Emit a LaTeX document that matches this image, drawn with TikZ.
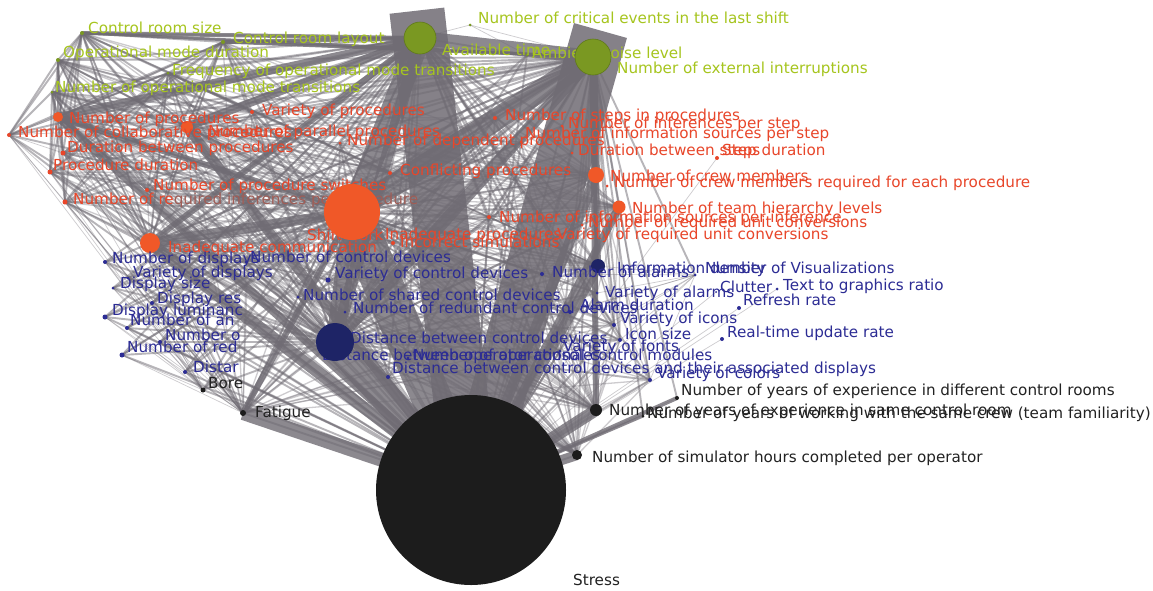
\documentclass[tikz,border=0pt]{standalone}
\usepackage{fontspec}
\setmainfont{DejaVu Sans}
\usetikzlibrary{backgrounds}
\definecolor{gtxt}{RGB}{166,197,30}
\definecolor{gnode}{RGB}{122,152,34}
\definecolor{gdark}{RGB}{96,122,26}
\definecolor{rtxt}{RGB}{232,70,42}
\definecolor{rnode}{RGB}{240,88,40}
\definecolor{btxt}{RGB}{44,44,148}
\definecolor{bnode}{RGB}{30,36,102}
\definecolor{ktxt}{RGB}{34,34,34}
\definecolor{knode}{RGB}{28,28,28}
\definecolor{edgec}{RGB}{112,108,116}
\tikzset{
  nd/.style={circle, inner sep=0pt, minimum size=#1, draw=none},
  lbl/.style={anchor=west, inner sep=0pt, text height=10pt, text depth=0pt,
              font=\fontsize{15.2}{17}\selectfont},
  gl/.style={lbl, text=gtxt},
  rl/.style={lbl, text=rtxt},
  bl/.style={lbl, text=btxt},
  kl/.style={lbl, text=ktxt},
  gd/.style={nd=#1, fill=gnode},
  rd/.style={nd=#1, fill=rtxt},
  bd/.style={nd=#1, fill=btxt},
  kd/.style={nd=#1, fill=knode},
  lnk/.style={draw=edgec, line width=1.9pt, opacity=0.5},
  lnkm/.style={draw=edgec, line width=1.3pt, opacity=0.35},
  lnkf/.style={draw=edgec, line width=0.7pt, opacity=0.35},
  lnkw/.style={draw=edgec, line width=#1, opacity=0.8},
  lnkq/.style={draw=edgec, line width=#1, opacity=0.85, line cap=rect},
}
\begin{document}
\begin{tikzpicture}[x=1pt,y=-1pt]
\useasboundingbox (0,0) rectangle (1153,590);

% ---------- small vertices ----------
% environment factors
\node[gd=4pt] (G-crs) at (82,33) {};
\node[gd=4pt] (G-crl) at (223,42) {};
\node[gd=4pt] (G-omd) at (58,60) {};
\node[gd=3pt] (G-fomt) at (168,73) {};
\node[gd=3pt] (G-nomt) at (52,92) {};
\node[gd=3pt] (G-anl) at (527,55) {};
\node[gd=3pt] (G-nce) at (470,25) {};
% task factors
\node[nd=10pt, fill=rnode] (R-np) at (58,117) {};
\node[rd=4pt] (R-ncp) at (9,135) {};
\node[nd=12pt, fill=rnode] (R-npp) at (187,127) {};
\node[rd=4pt] (R-vp) at (252,112) {};
\node[rd=5pt] (R-dbp) at (63,153) {};
\node[rd=5pt] (R-pd) at (50,172) {};
\node[rd=4pt] (R-nps) at (147,190) {};
\node[rd=5pt] (R-nri) at (65,202) {};
\node[rd=3pt] (R-ndp) at (340,143) {};
\node[rd=4pt] (R-nsp) at (495,118) {};
\node[rd=3pt] (R-nip) at (562,126) {};
\node[rd=3pt] (R-nis) at (521,142) {};
\node[rd=3pt] (R-dbs) at (572,153) {};
\node[rd=4pt] (R-sd) at (717,158) {};
\node[rd=4pt] (R-cp) at (390,173) {};
\node[nd=16pt, fill=rnode] (R-ncm) at (596,175) {};
\node[rd=3pt] (R-ncmr) at (607,186) {};
\node[nd=13pt, fill=rnode] (R-ntl) at (619,207) {};
\node[rd=4pt] (R-nisi) at (489,217) {};
\node[rd=3pt] (R-nru) at (582,225) {};
\node[rd=4pt] (R-is) at (393,243) {};
\node[nd=20pt, fill=rnode] (R-ic) at (150,243) {};
% interface factors
\node[bd=4pt] (B-nd) at (105,262) {};
\node[bd=3pt] (B-ncd) at (246,262) {};
\node[bd=3pt] (B-vd) at (128,278) {};
\node[bd=3pt] (B-ds) at (113,288) {};
\node[bd=4pt] (B-dr) at (152,303) {};
\node[bd=5pt] (B-dl) at (105,317) {};
\node[bd=4pt] (B-na) at (127,328) {};
\node[bd=4pt] (B-no) at (160,342) {};
\node[bd=5pt] (B-nr) at (122,355) {};
\node[bd=4pt] (B-di) at (185,372) {};
\node[bd=5pt] (B-vcd) at (328,280) {};
\node[bd=3pt] (B-nscd) at (298,297) {};
\node[bd=3pt] (B-nrcd) at (345,312) {};
\node[bd=4pt] (B-dcda) at (388,377) {};
\node[bd=4pt] (B-na2) at (542,274) {};
\node[nd=14pt, fill=bnode] (B-id) at (598,266) {};
\node[bd=3pt] (B-nv) at (695,275) {};
\node[bd=3pt] (B-va) at (597,293) {};
\node[bd=2pt] (B-cl) at (716,292) {};
\node[bd=3pt] (B-tgr) at (777,289) {};
\node[bd=4pt] (B-rr) at (739,308) {};
\node[bd=4pt] (B-ad) at (570,312) {};
\node[bd=4pt] (B-vi) at (614,325) {};
\node[bd=4pt] (B-is) at (620,340) {};
\node[bd=4pt] (B-rt) at (722,339) {};
\node[bd=3pt] (B-vf) at (560,351) {};
\node[bd=3pt] (B-nocm) at (408,358) {};
\node[bd=4pt] (B-vc) at (650,380) {};
% operator factors
\node[kd=5pt] (K-b) at (203,390) {};
\node[kd=6pt] (K-f) at (243,413) {};
\node[kd=4pt] (K-ydc) at (677,398) {};
\node[kd=12pt] (K-ysc) at (596,410) {};
\node[kd=3pt] (K-ysw) at (643,416) {};
\node[kd=10pt] (K-sim) at (577,455) {};

% ---------- labels ----------
\node[gl] (G-crs-t) at (88,28) {Control room size};
\node[gl] (G-crl-t) at (233,38) {Control room layout};
\node[gl] (G-omd-t) at (63,52) {Operational mode duration};
\node[gl] (G-fomt-t) at (172,70) {Frequency of operational mode transitions};
\node[gl] (G-nomt-t) at (55,87) {Number of operational mode transitions};
\node[gl] (G1-t) at (442,50) {Available time};
\node[gl] (G-anl-t) at (532,53) {Ambient noise level};
\node[gl] (G2-t) at (617,68) {Number of external interruptions};
\node[gl] (G-nce-t) at (478,18) {Number of critical events in the last shift};

\node[rl] (R-np-t) at (69,118) {Number of procedures};
\node[rl] (R-ncp-t) at (18,132) {Number of collaborative procedures};
\node[rl] (R-npp-t) at (208,131) {Number of parallel procedures};
\node[rl] (R-vp-t) at (262,110) {Variety of procedures};
\node[rl] (R-dbp-t) at (67,147) {Duration between procedures};
\node[rl] (R-pd-t) at (53,165) {Procedure duration};
\node[rl] (R-nps-t) at (153,185) {Number of procedure switches};
\node[rl] (R-nri-t) at (73,199) {Number of re{\color{rtxt!40!edgec}quired inferences per procedure}};
\node[rl] (R-ndp-t) at (347,140) {Number of dependent procedures};
\node[rl] (R-nsp-t) at (505,115) {Number of steps in procedures};
\node[rl] (R-nip-t) at (568,123) {Number of inferences per step};
\node[rl] (R-nis-t) at (525,133) {Number of information sources per step};
\node[rl] (R-dbs-t) at (578,150) {Duration between steps};
\node[rl] (R-sd-t) at (722,150) {Step duration};
\node[rl] (R-cp-t) at (400,170) {Conflicting procedures};
\node[rl] (R-ncm-t) at (610,176) {Number of crew members};
\node[rl] (R-ncmr-t) at (614,182) {Number of crew members required for each procedure};
\node[rl] (R-ntl-t) at (632,208) {Number of team hierarchy levels};
\node[rl] (R-nisi-t) at (499,217) {Number of information sources per inference};
\node[rl] (R-nru-t) at (588,222) {Number of required unit conversions};
\node[rl] (R-sw-t) at (307,235) {Shift work};
\node[rl] (R-ip-t) at (385,234) {Inadequate procedures};
\node[rl] (R-vru-t) at (557,234) {Variety of required unit conversions};
\node[rl] (R-is-t) at (400,242) {Incorrect simulations};
\node[rl] (R-ic-t) at (168,247) {Inadequate communication};

\node[bl] (B-nd-t) at (112,258) {Number of displays};
\node[bl] (B-ncd-t) at (250,257) {Number of control devices};
\node[bl] (B-vd-t) at (133,272) {Variety of displays};
\node[bl] (B-ds-t) at (120,283) {Display size};
\node[bl] (B-dr-t) at (157,298) {Display res};
\node[bl] (B-dl-t) at (112,310) {Display luminanc};
\node[bl] (B-na-t) at (130,320) {Number of an};
\node[bl] (B-no-t) at (165,335) {Number o};
\node[bl] (B-nr-t) at (127,347) {Number of red};
\node[bl] (B-di-t) at (193,367) {Distar};
\node[bl] (B-vcd-t) at (335,273) {Variety of control devices};
\node[bl] (B-nscd-t) at (303,295) {Number of shared control devices};
\node[bl] (B-nrcd-t) at (353,308) {Number of redundant control devices};
\node[bl] (B-dbcd-t) at (350,338) {Distance between control devices};
\node[bl] (B-doc-t) at (322,355) {Distance between operator consoles};
\node[bl] (B-nocm-t) at (413,355) {Number of operational control modules};
\node[bl] (B-dcda-t) at (392,368) {Distance between control devices and their associated displays};
\node[bl] (B-na2-t) at (552,272) {Number of alarms};
\node[bl] (B-id-t) at (617,268) {Information density};
\node[bl] (B-nv-t) at (705,268) {Number of Visualizations};
\node[bl] (B-va-t) at (605,292) {Variety of alarms};
\node[bl] (B-cl-t) at (720,287) {Clutter};
\node[bl] (B-tgr-t) at (783,285) {Text to graphics ratio};
\node[bl] (B-rr-t) at (743,300) {Refresh rate};
\node[bl] (B-ad-t) at (580,305) {Alarm duration};
\node[bl] (B-vi-t) at (620,318) {Variety of icons};
\node[bl] (B-is-t) at (625,334) {Icon size};
\node[bl] (B-rt-t) at (727,332) {Real-time update rate};
\node[bl] (B-vf-t) at (563,346) {Variety of fonts};
\node[bl] (B-vc-t) at (657,373) {Variety of colors};

\node[kl] (K-b-t) at (208,383) {Bore};
\node[kl] (K-f-t) at (255,412) {Fatigue};
\node[kl] (K-ydc-t) at (681,390) {Number of years of experience in different control rooms};
\node[kl] (K-ysc-t) at (609,410) {Number of years of experience in same control room};
\node[kl] (K-ysw-t) at (647,413) {Number of years of working with the same crew (team familiarity)};
\node[kl] (K-sim-t) at (592,457) {Number of simulator hours completed per operator};
\node[kl] (K-s-t) at (573,580) {Stress};

% ---------- large vertices ----------
\node[nd=32pt, fill=gnode, draw=gdark, line width=0.6pt] (G1) at (420,38) {};
\node[nd=36pt, fill=gnode, draw=gdark, line width=0.6pt] (G2) at (593,57) {};
\node[nd=56pt, fill=rnode] (R-big) at (352,212) {};
\node[nd=38pt, fill=bnode] (B-dbcd) at (335,342) {};
\node[nd=190pt, fill=knode] (K-s) at (471,490) {};

% ---------- connectors ----------
\begin{scope}[on background layer]
\fill[white] (0,0) rectangle (1153,590);
% heavy links between the main factors
\draw[lnkq=55pt] (G1.center) -- (K-s.center);
\draw[lnkq=55pt] (G2.center) -- (K-s.center);
\draw[lnkw=40pt] (R-big.center) -- (K-s.center);
\draw[lnkw=22pt] (R-big.center) -- (G1.center);
\draw[lnkw=22pt] (R-big.center) -- (G2.center);
\draw[lnkw=14pt] (G1.center) -- (G2.center);
\draw[lnkw=30pt] (B-dbcd.center) -- (K-s.center);
\draw[lnkw=18pt] (B-dbcd.center) -- (R-big.center);
\draw[lnkw=12pt] (B-dbcd.center) -- (G1.center);
\draw[lnkw=12pt] (B-dbcd.center) -- (G2.center);
\draw[lnkw=12pt] (R-ic.center) -- (K-s.center);
\draw[lnkw=10pt] (R-ic.center) -- (R-big.center);
\draw[lnkw=14pt] (K-f.center) -- (K-s.center);
\draw[lnkw=6pt] (K-f.center) -- (R-big.center);
\draw[lnkw=12pt] (K-ysc.center) -- (K-s.center);
\draw[lnkw=10pt] (K-sim.center) -- (K-s.center);
\draw[lnkw=6pt] (K-ysc.center) -- (G2.center);
\draw[lnkw=10pt] (R-ncm.center) -- (K-s.center);
\draw[lnkw=8pt] (R-ncm.center) -- (G2.center);
\draw[lnkw=8pt] (R-ntl.center) -- (K-s.center);
\draw[lnkw=10pt] (B-id.center) -- (K-s.center);
\draw[lnkw=6pt] (B-id.center) -- (G2.center);
\draw[lnkw=10pt] (R-npp.center) -- (K-s.center);
\draw[lnkw=8pt] (R-np.center) -- (K-s.center);
\draw[lnkw=8pt] (R-npp.center) -- (G1.center);
\draw[lnkw=8pt] (R-np.center) -- (G1.center);
\draw[lnkw=6pt] (R-np.center) -- (R-big.center);
\draw[lnkw=6pt] (R-ic.center) -- (G1.center);
\draw[lnkw=4pt] (G-crs.center) -- (G1.center);
\draw[lnkw=4pt] (G-crl.center) -- (G1.center);
\draw[lnkw=3pt] (G-crs.center) -- (G2.center);
\draw[lnkw=3pt] (G-crl.center) -- (G2.center);
% every factor to the main factors
\foreach \a in {G-crs,G-crl,G-omd,G-fomt,G-nomt,G-anl,R-np,R-ncp,R-npp,R-vp,R-dbp,R-pd,R-nps,R-nri,R-ndp,R-nsp,R-nip,R-nis,R-dbs,R-cp,R-ncm,R-ntl,R-nisi,R-nru,R-is,R-ic,B-nd,B-ncd,B-vd,B-ds,B-dr,B-dl,B-na,B-no,B-nr,B-di,B-vcd,B-nscd,B-nrcd,B-dcda,B-nocm,B-na2,B-id,B-va,B-ad,B-vi,B-is,B-vf,B-vc,K-b,K-f,K-ysc,K-sim}
  \foreach \h in {G1,G2,R-big,B-dbcd,K-s}
    \draw[lnk] (\a.center) -- (\h.center);
% every inner factor to the secondary factors
\foreach \a in {G-crs,G-crl,G-omd,G-fomt,G-nomt,R-np,R-npp,R-vp,R-dbp,R-pd,R-nps,R-nri,R-ndp,R-nsp,R-nis,R-cp,R-nisi,R-is,R-ic,B-ncd,B-vcd,B-nscd,B-nrcd,B-dcda,B-nocm,B-na2,B-va,B-ad,B-vi,B-is,B-vf,B-vc}
  \foreach \h in {R-ncm,R-ntl,B-id,K-ysc,K-sim,K-f,R-ic,R-npp,R-np}
    \draw[lnkm] (\a.center) -- (\h.center);
% environment factors to the task factors
\foreach \a in {G-crs,G-crl,G-omd,G-fomt,G-nomt}
  \foreach \h in {R-np,R-ncp,R-npp,R-vp,R-dbp,R-pd,R-nps,R-nri,R-ic,R-cp}
    \draw[lnk] (\a.center) -- (\h.center);
\draw[lnk] (G-crs.center) -- (G-crl.center);
\draw[lnk] (G-crs.center) -- (G-omd.center);
\draw[lnk] (G-crs.center) -- (G-nomt.center);
\draw[lnk] (G-crl.center) -- (G-fomt.center);
\draw[lnkf] (G-nce.center) -- (G1.center);
\draw[lnkf] (G-nce.center) -- (G-anl.center);
\draw[lnkf] (G-nce.center) -- (G2.center);
% operator state factors to the left-hand factors
\foreach \a in {R-np,R-ncp,R-dbp,R-pd,R-nri,R-ic,B-nd,B-vd,B-ds,B-dr,B-dl,B-na,B-no,B-nr,B-di}
  \foreach \h in {K-f,K-b}
    \draw[lnkf] (\a.center) -- (\h.center);
\foreach \a in {R-np,R-dbp,R-pd,R-nri,R-npp}
  \draw[lnkf] (R-ncp.center) -- (\a.center);
% display factors to the visualization count
\foreach \a in {B-id,B-na2,B-va,B-ad,B-vi,B-is,B-vf,B-vc,B-nocm}
  \draw[lnkf] (B-nv.center) -- (\a.center);
% outlying factors
\foreach \a in {R-sd,R-ncmr,B-nv,B-cl,B-tgr,B-rr,B-rt,K-ydc,K-ysw}
  \draw[lnkf] (\a.center) -- (K-s.center);
\foreach \a in {K-ydc,K-ysw,B-nv}
  \draw[lnk] (\a.center) -- (G2.center);
\draw[lnkw=4pt] (K-ydc.center) -- (K-s.center);
\draw[lnkw=3pt] (K-ysw.center) -- (K-s.center);
\end{scope}
\end{tikzpicture}
\end{document}
